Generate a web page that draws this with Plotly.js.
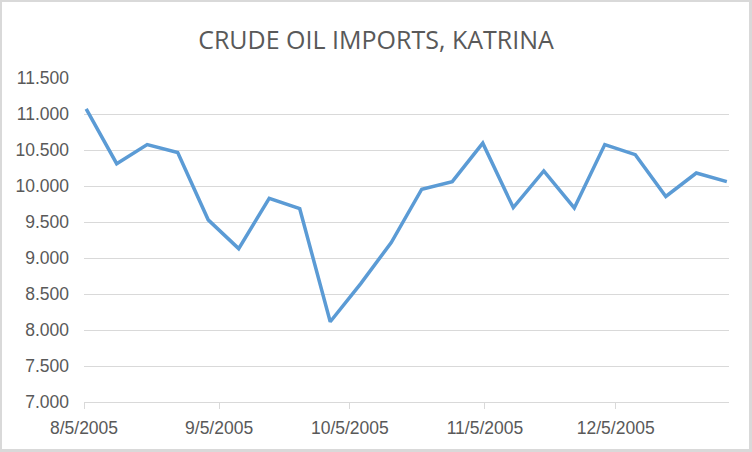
<!DOCTYPE html>
<html>
<head>
<meta charset="utf-8">
<script src="https://cdn.plot.ly/plotly-3.0.1.min.js"></script>
<style>
  html, body { margin: 0; padding: 0; background: #fff; }
  #wrap { position: relative; width: 752px; height: 452px; }
  #chart { width: 752px; height: 452px; }
  #frame { position: absolute; left: 0; top: 0; width: 752px; height: 452px; box-sizing: border-box;
           border: 2px solid #d9d9d9; border-right-width: 3px; border-bottom-width: 3px; pointer-events: none; }
</style>
</head>
<body>
<div id="wrap"><div id="chart"></div><div id="frame"></div></div>
<script>
const dates = ['2005-08-05','2005-08-12','2005-08-19','2005-08-26','2005-09-02','2005-09-09',
               '2005-09-16','2005-09-23','2005-09-30','2005-10-07','2005-10-14','2005-10-21',
               '2005-10-28','2005-11-04','2005-11-11','2005-11-18','2005-11-25','2005-12-02',
               '2005-12-09','2005-12-16','2005-12-23','2005-12-30'];
const imports = [11070, 10310, 10575, 10465, 9530, 9130,
                 9830, 9685, 8115, 8645, 9215, 9955,
                 10060, 10595, 9700, 10210, 9695, 10575,
                 10435, 9855, 10180, 10060];
const xTickVals = ['2005-08-05','2005-09-05','2005-10-05','2005-11-05','2005-12-05'];
const xTickText = ['8/5/2005','9/5/2005','10/5/2005','11/5/2005','12/5/2005'];
const yTickVals = [7000, 7500, 8000, 8500, 9000, 9500, 10000, 10500, 11000, 11500];

const trace = {
  x: dates, y: imports, type: 'scatter', mode: 'lines',
  xperiod: 86400000, xperiodalignment: 'middle',
  line: { color: '#5b9bd5', width: 3.5 },
  hoverinfo: 'x+y'
};

const layout = {
  width: 752, height: 452,
  margin: { l: 84, r: 23, t: 78, b: 50 },
  paper_bgcolor: '#ffffff', plot_bgcolor: '#ffffff',
  separators: ',.',
  showlegend: false,
  font: { family: 'Liberation Sans, Arial, sans-serif', color: '#595959', size: 17 },
  title: {
    text: 'CRUDE OIL IMPORTS, KATRINA',
    font: { family: 'Open Sans, sans-serif', size: 25, color: '#595959' },
    x: 0.5, xanchor: 'center', xref: 'container',
    y: 0.912, yanchor: 'middle', yref: 'container'
  },
  xaxis: {
    type: 'date',
    range: ['2005-08-05', '2005-12-31'],
    tickmode: 'array', tickvals: xTickVals, ticktext: xTickText,
    ticks: 'outside', ticklen: 6, tickcolor: '#d9d9d9', tickwidth: 1,
    ticklabelstandoff: 4,
    showline: true, linecolor: '#d9d9d9', linewidth: 1,
    showgrid: false, zeroline: false,
    tickfont: { size: 17.5, color: '#595959' }
  },
  yaxis: {
    range: [7000, 11500],
    tickmode: 'array', tickvals: yTickVals,
    tickformat: ',d',
    showgrid: true, gridcolor: '#d9d9d9', gridwidth: 1,
    showline: false, zeroline: false, ticks: '',
    ticklabelstandoff: 14,
    tickfont: { size: 17.5, color: '#595959' }
  }
};

Plotly.newPlot('chart', [trace], layout, { displayModeBar: false, staticPlot: true });
</script>
</body>
</html>
